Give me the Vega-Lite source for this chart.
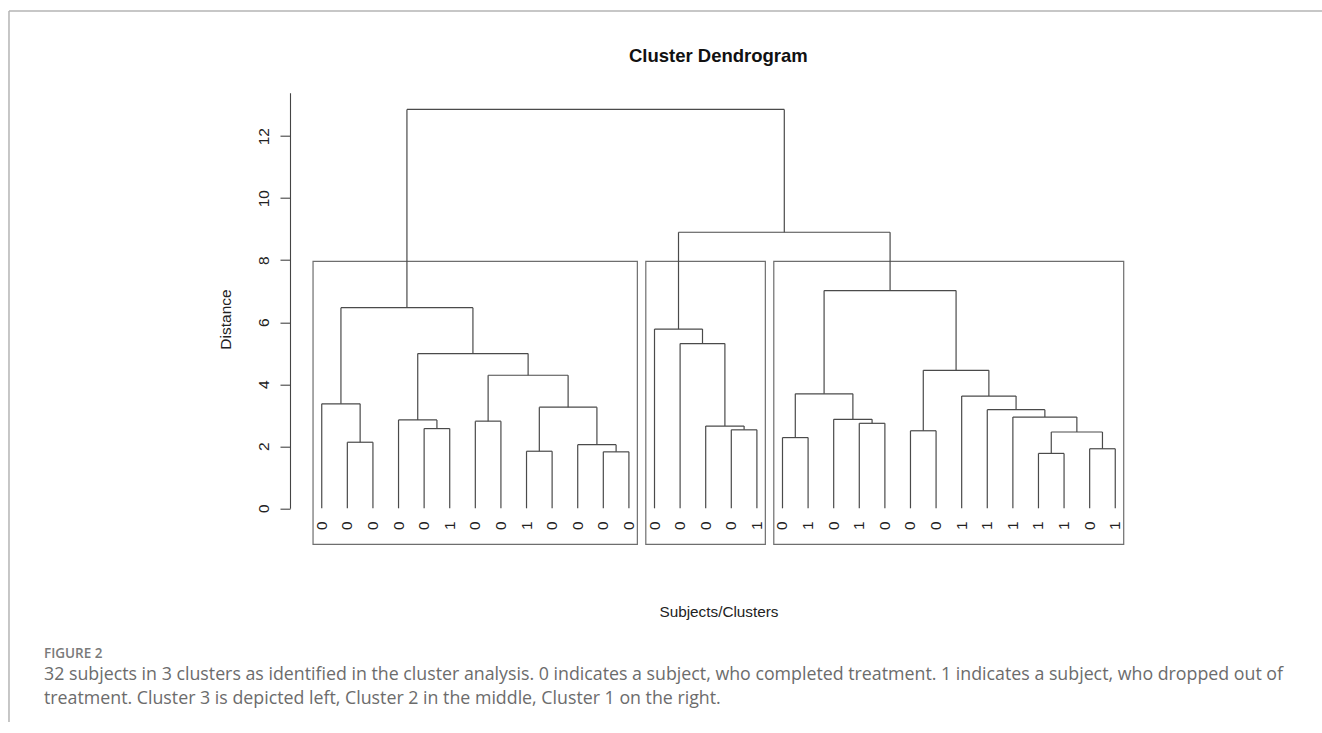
{
  "$schema": "https://vega.github.io/schema/vega-lite/v6.json",
  "width": 857,
  "height": 415.6,
  "autosize": {"type": "none"},
  "padding": {"left": 290, "top": 92.7, "right": 175, "bottom": 224.7},
  "background": "white",
  "config": {
    "view": {"stroke": null},
    "font": "Liberation Sans",
    "axis": {"grid": false},
    "axisY": {
      "domainColor": "#444", "domainWidth": 1.1, "tickColor": "#444", "tickWidth": 1.1, "tickSize": 10,
      "labelFontSize": 15.5, "labelColor": "#222", "labelAngle": 270, "labelAlign": "center", "labelBaseline": "middle", "labelPadding": 17,
      "titleFontSize": 15.5, "titleFontWeight": "normal", "titleColor": "#222", "titleAngle": 270,
      "titleX": -65, "titleY": 226.3, "titleAlign": "center", "titleBaseline": "middle"
    },
    "axisX": {
      "domain": false, "ticks": false, "labels": false,
      "titleFontSize": 15.3, "titleFontWeight": "normal", "titleColor": "#222",
      "titleY": 102.7, "titleBaseline": "middle"
    }
  },
  "datasets": {
    "merges": [
      {"node": "A", "left": 2, "right": 3, "height": 2.13, "leftHeight": 0, "rightHeight": 0},
      {"node": "B", "left": 1, "right": 2.5, "height": 3.37, "leftHeight": 0, "rightHeight": 2.13},
      {"node": "C", "left": 5, "right": 6, "height": 2.57, "leftHeight": 0, "rightHeight": 0},
      {"node": "D", "left": 4, "right": 5.5, "height": 2.85, "leftHeight": 0, "rightHeight": 2.57},
      {"node": "E", "left": 7, "right": 8, "height": 2.81, "leftHeight": 0, "rightHeight": 0},
      {"node": "F", "left": 9, "right": 10, "height": 1.84, "leftHeight": 0, "rightHeight": 0},
      {"node": "G", "left": 12, "right": 13, "height": 1.82, "leftHeight": 0, "rightHeight": 0},
      {"node": "H", "left": 11, "right": 12.5, "height": 2.05, "leftHeight": 0, "rightHeight": 1.82},
      {"node": "I", "left": 9.5, "right": 11.75, "height": 3.26, "leftHeight": 1.84, "rightHeight": 2.05},
      {"node": "J", "left": 7.5, "right": 10.625, "height": 4.29, "leftHeight": 2.81, "rightHeight": 3.26},
      {"node": "K", "left": 4.75, "right": 9.0625, "height": 4.99, "leftHeight": 2.85, "rightHeight": 4.29},
      {"node": "L", "left": 1.75, "right": 6.90625, "height": 6.47, "leftHeight": 3.37, "rightHeight": 4.99},
      {"node": "M", "left": 17, "right": 18, "height": 2.53, "leftHeight": 0, "rightHeight": 0},
      {"node": "N", "left": 16, "right": 17.5, "height": 2.65, "leftHeight": 0, "rightHeight": 2.53},
      {"node": "O", "left": 15, "right": 16.75, "height": 5.31, "leftHeight": 0, "rightHeight": 2.65},
      {"node": "P", "left": 14, "right": 15.875, "height": 5.78, "leftHeight": 0, "rightHeight": 5.31},
      {"node": "Q", "left": 19, "right": 20, "height": 2.28, "leftHeight": 0, "rightHeight": 0},
      {"node": "R", "left": 22, "right": 23, "height": 2.74, "leftHeight": 0, "rightHeight": 0},
      {"node": "S", "left": 21, "right": 22.5, "height": 2.87, "leftHeight": 0, "rightHeight": 2.74},
      {"node": "T", "left": 19.5, "right": 21.75, "height": 3.69, "leftHeight": 2.28, "rightHeight": 2.87},
      {"node": "U", "left": 24, "right": 25, "height": 2.5, "leftHeight": 0, "rightHeight": 0},
      {"node": "V", "left": 29, "right": 30, "height": 1.77, "leftHeight": 0, "rightHeight": 0},
      {"node": "W", "left": 31, "right": 32, "height": 1.92, "leftHeight": 0, "rightHeight": 0},
      {"node": "X", "left": 29.5, "right": 31.5, "height": 2.46, "leftHeight": 1.77, "rightHeight": 1.92},
      {"node": "Y", "left": 28, "right": 30.5, "height": 2.94, "leftHeight": 0, "rightHeight": 2.46},
      {"node": "Z", "left": 27, "right": 29.25, "height": 3.18, "leftHeight": 0, "rightHeight": 2.94},
      {"node": "AA", "left": 26, "right": 28.125, "height": 3.62, "leftHeight": 0, "rightHeight": 3.18},
      {"node": "AB", "left": 24.5, "right": 27.0625, "height": 4.45, "leftHeight": 2.5, "rightHeight": 3.62},
      {"node": "AC", "left": 20.625, "right": 25.78125, "height": 7.02, "leftHeight": 3.69, "rightHeight": 4.45},
      {"node": "AD", "left": 14.9375, "right": 23.203125, "height": 8.9, "leftHeight": 5.78, "rightHeight": 7.02},
      {"node": "Root", "left": 4.328125, "right": 19.0703125, "height": 12.86, "leftHeight": 6.47, "rightHeight": 8.9}
    ],
    "leaves": [
      {"leaf": 1, "label": "0"}, {"leaf": 2, "label": "0"}, {"leaf": 3, "label": "0"}, {"leaf": 4, "label": "0"},
      {"leaf": 5, "label": "0"}, {"leaf": 6, "label": "1"}, {"leaf": 7, "label": "0"}, {"leaf": 8, "label": "0"},
      {"leaf": 9, "label": "1"}, {"leaf": 10, "label": "0"}, {"leaf": 11, "label": "0"}, {"leaf": 12, "label": "0"},
      {"leaf": 13, "label": "0"}, {"leaf": 14, "label": "0"}, {"leaf": 15, "label": "0"}, {"leaf": 16, "label": "0"},
      {"leaf": 17, "label": "0"}, {"leaf": 18, "label": "1"}, {"leaf": 19, "label": "0"}, {"leaf": 20, "label": "1"},
      {"leaf": 21, "label": "0"}, {"leaf": 22, "label": "1"}, {"leaf": 23, "label": "0"}, {"leaf": 24, "label": "0"},
      {"leaf": 25, "label": "0"}, {"leaf": 26, "label": "1"}, {"leaf": 27, "label": "1"}, {"leaf": 28, "label": "1"},
      {"leaf": 29, "label": "1"}, {"leaf": 30, "label": "1"}, {"leaf": 31, "label": "0"}, {"leaf": 32, "label": "1"}
    ],
    "clusters": [
      {"cluster": "Cluster 3", "from": 0.66, "to": 13.33, "bottom": -1.16, "top": 7.96},
      {"cluster": "Cluster 2", "from": 13.66, "to": 18.33, "bottom": -1.16, "top": 7.96},
      {"cluster": "Cluster 1", "from": 18.66, "to": 32.33, "bottom": -1.16, "top": 7.96}
    ]
  },
  "layer": [
    {
      "data": {"name": "clusters"},
      "mark": {"type": "rect", "filled": false, "color": "#6e6e6e", "strokeWidth": 1.2},
      "encoding": {
        "x": {"field": "from", "type": "quantitative", "scale": {"domain": [-0.24, 33.24], "nice": false, "zero": false}, "title": "Subjects/Clusters"},
        "x2": {"field": "to"},
        "y": {"field": "bottom", "type": "quantitative", "scale": {"domain": [0, 13.4], "nice": false, "zero": false}, "axis": {"values": [0, 2, 4, 6, 8, 10, 12]}, "title": "Distance"},
        "y2": {"field": "top"}
      }
    },
    {
      "data": {"name": "merges"},
      "mark": {"type": "rule", "color": "#4a4a4a", "strokeWidth": 1.2},
      "encoding": {
        "x": {"field": "left", "type": "quantitative", "title": "Subjects/Clusters"},
        "x2": {"field": "right"},
        "y": {"field": "height", "type": "quantitative", "title": "Distance"}
      }
    },
    {
      "data": {"name": "merges"},
      "mark": {"type": "rule", "color": "#4a4a4a", "strokeWidth": 1.2},
      "encoding": {
        "x": {"field": "left", "type": "quantitative", "title": "Subjects/Clusters"},
        "y": {"field": "leftHeight", "type": "quantitative", "title": "Distance"},
        "y2": {"field": "height"}
      }
    },
    {
      "data": {"name": "merges"},
      "mark": {"type": "rule", "color": "#4a4a4a", "strokeWidth": 1.2},
      "encoding": {
        "x": {"field": "right", "type": "quantitative", "title": "Subjects/Clusters"},
        "y": {"field": "rightHeight", "type": "quantitative", "title": "Distance"},
        "y2": {"field": "height"}
      }
    },
    {
      "data": {"name": "leaves"},
      "mark": {"type": "text", "angle": 270, "fontSize": 15.5, "color": "#222", "align": "center", "baseline": "middle"},
      "encoding": {
        "x": {"field": "leaf", "type": "quantitative", "title": "Subjects/Clusters"},
        "y": {"datum": -0.561, "type": "quantitative", "title": "Distance"},
        "text": {"field": "label", "type": "nominal"}
      }
    },
    {
      "data": {"values": [{"text": "Cluster Dendrogram"}]},
      "mark": {"type": "text", "fontSize": 18.5, "fontWeight": "bold", "color": "#111", "align": "center", "baseline": "middle"},
      "encoding": {
        "x": {"datum": 16.494, "type": "quantitative", "title": "Subjects/Clusters"},
        "y": {"datum": 14.585, "type": "quantitative", "title": "Distance"},
        "text": {"field": "text", "type": "nominal"}
      }
    },
    {
      "data": {"values": [{"text": "FIGURE 2"}]},
      "mark": {"type": "text", "font": "Open Sans", "fontSize": 13.5, "fontWeight": 600, "color": "#7a7a7a", "align": "left", "baseline": "alphabetic"},
      "encoding": {
        "x": {"datum": -9.851, "type": "quantitative", "title": "Subjects/Clusters"},
        "y": {"datum": -4.837, "type": "quantitative", "title": "Distance"},
        "text": {"field": "text", "type": "nominal"}
      }
    },
    {
      "data": {"values": [{"lines": ["32 subjects in 3 clusters as identified in the cluster analysis. 0 indicates a subject, who completed treatment. 1 indicates a subject, who dropped out of", "treatment. Cluster 3 is depicted left, Cluster 2 in the middle, Cluster 1 on the right."]}]},
      "mark": {"type": "text", "font": "Open Sans", "fontSize": 17.8, "fontWeight": "normal", "color": "#6c6c6c", "align": "left", "baseline": "alphabetic", "lineHeight": 24},
      "encoding": {
        "x": {"datum": -9.851, "type": "quantitative", "title": "Subjects/Clusters"},
        "y": {"datum": -5.521, "type": "quantitative", "title": "Distance"},
        "text": {"field": "lines", "type": "nominal"}
      }
    },
    {
      "data": {"values": [{"edge": "top"}]},
      "mark": {"type": "rule", "color": "#b5b5b5", "strokeWidth": 1.5},
      "encoding": {
        "x": {"datum": -11.218, "type": "quantitative", "title": "Subjects/Clusters"},
        "x2": {"datum": 40.1},
        "y": {"datum": 16.037, "type": "quantitative", "title": "Distance"}
      }
    },
    {
      "data": {"values": [{"edge": "left"}]},
      "mark": {"type": "rule", "color": "#b5b5b5", "strokeWidth": 1.5},
      "encoding": {
        "x": {"datum": -11.218, "type": "quantitative", "title": "Subjects/Clusters"},
        "y": {"datum": 16.037, "type": "quantitative", "title": "Distance"},
        "y2": {"datum": -6.891}
      }
    }
  ]
}
